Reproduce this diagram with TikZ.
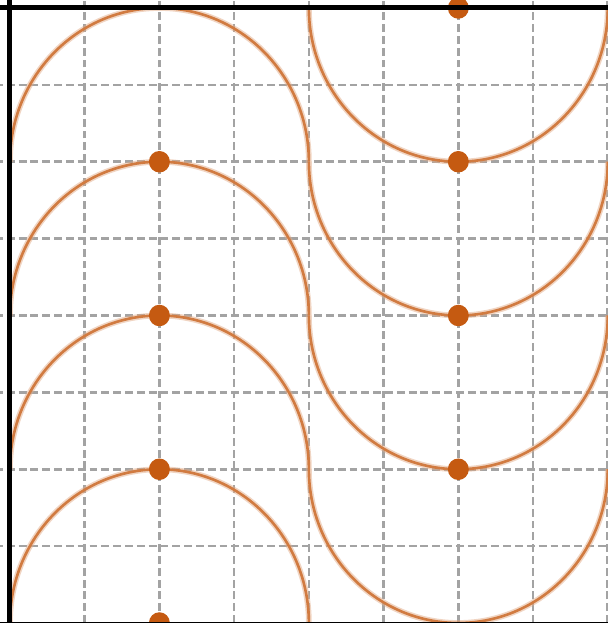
\documentclass[tikz,border=0pt]{standalone}
\usepackage{xcolor}
\definecolor{arcorange}{HTML}{C55A11}
\definecolor{gridgray}{HTML}{A3A3A3}

\begin{document}
\begin{tikzpicture}[x=1cm, y=1.0287cm]
    \useasboundingbox (-0.133,0) rectangle (8.0,8.104);
    \clip (-0.133,0) rectangle (8.0,8.104);
    % grid
    \foreach \gx in {1,...,8}
        \draw[gridgray, line width=1pt, dash pattern=on 3pt off 1.5pt] (\gx,0) -- (\gx,8.2);
    \foreach \gy in {1,...,7}
        \draw[gridgray, line width=1pt, dash pattern=on 3pt off 1.5pt] (-0.2,\gy) -- (8.2,\gy);
    % arcs
    \foreach \cy in {0,2,4,6} {
        \draw[arcorange!50, line width=2.2pt, opacity=0.5] (0,\cy) arc[start angle=180, end angle=0, x radius=2, y radius=2];
        \draw[arcorange!80, line width=1pt] (0,\cy) arc[start angle=180, end angle=0, x radius=2, y radius=2];
    }
    \foreach \cy in {2,4,6,8} {
        \draw[arcorange!50, line width=2.2pt, opacity=0.5] (4,\cy) arc[start angle=180, end angle=360, x radius=2, y radius=2];
        \draw[arcorange!80, line width=1pt] (4,\cy) arc[start angle=180, end angle=360, x radius=2, y radius=2];
    }
    % centres
    \foreach \cy in {0,2,4,6}
        \fill[arcorange] (2,\cy) coordinate (L\cy) circle[radius=0.14];
    \foreach \cy in {2,4,6,8}
        \fill[arcorange] (6,\cy) coordinate (R\cy) circle[radius=0.14];
    % axes
    \draw[line width=0.45pt] (-0.2,0) -- (8.2,0);
    \draw[line width=1.9pt] (0,0) -- (0,8.2);
    \draw[line width=1.9pt] (-0.2,8) -- (8.2,8);
\end{tikzpicture}
\end{document}
